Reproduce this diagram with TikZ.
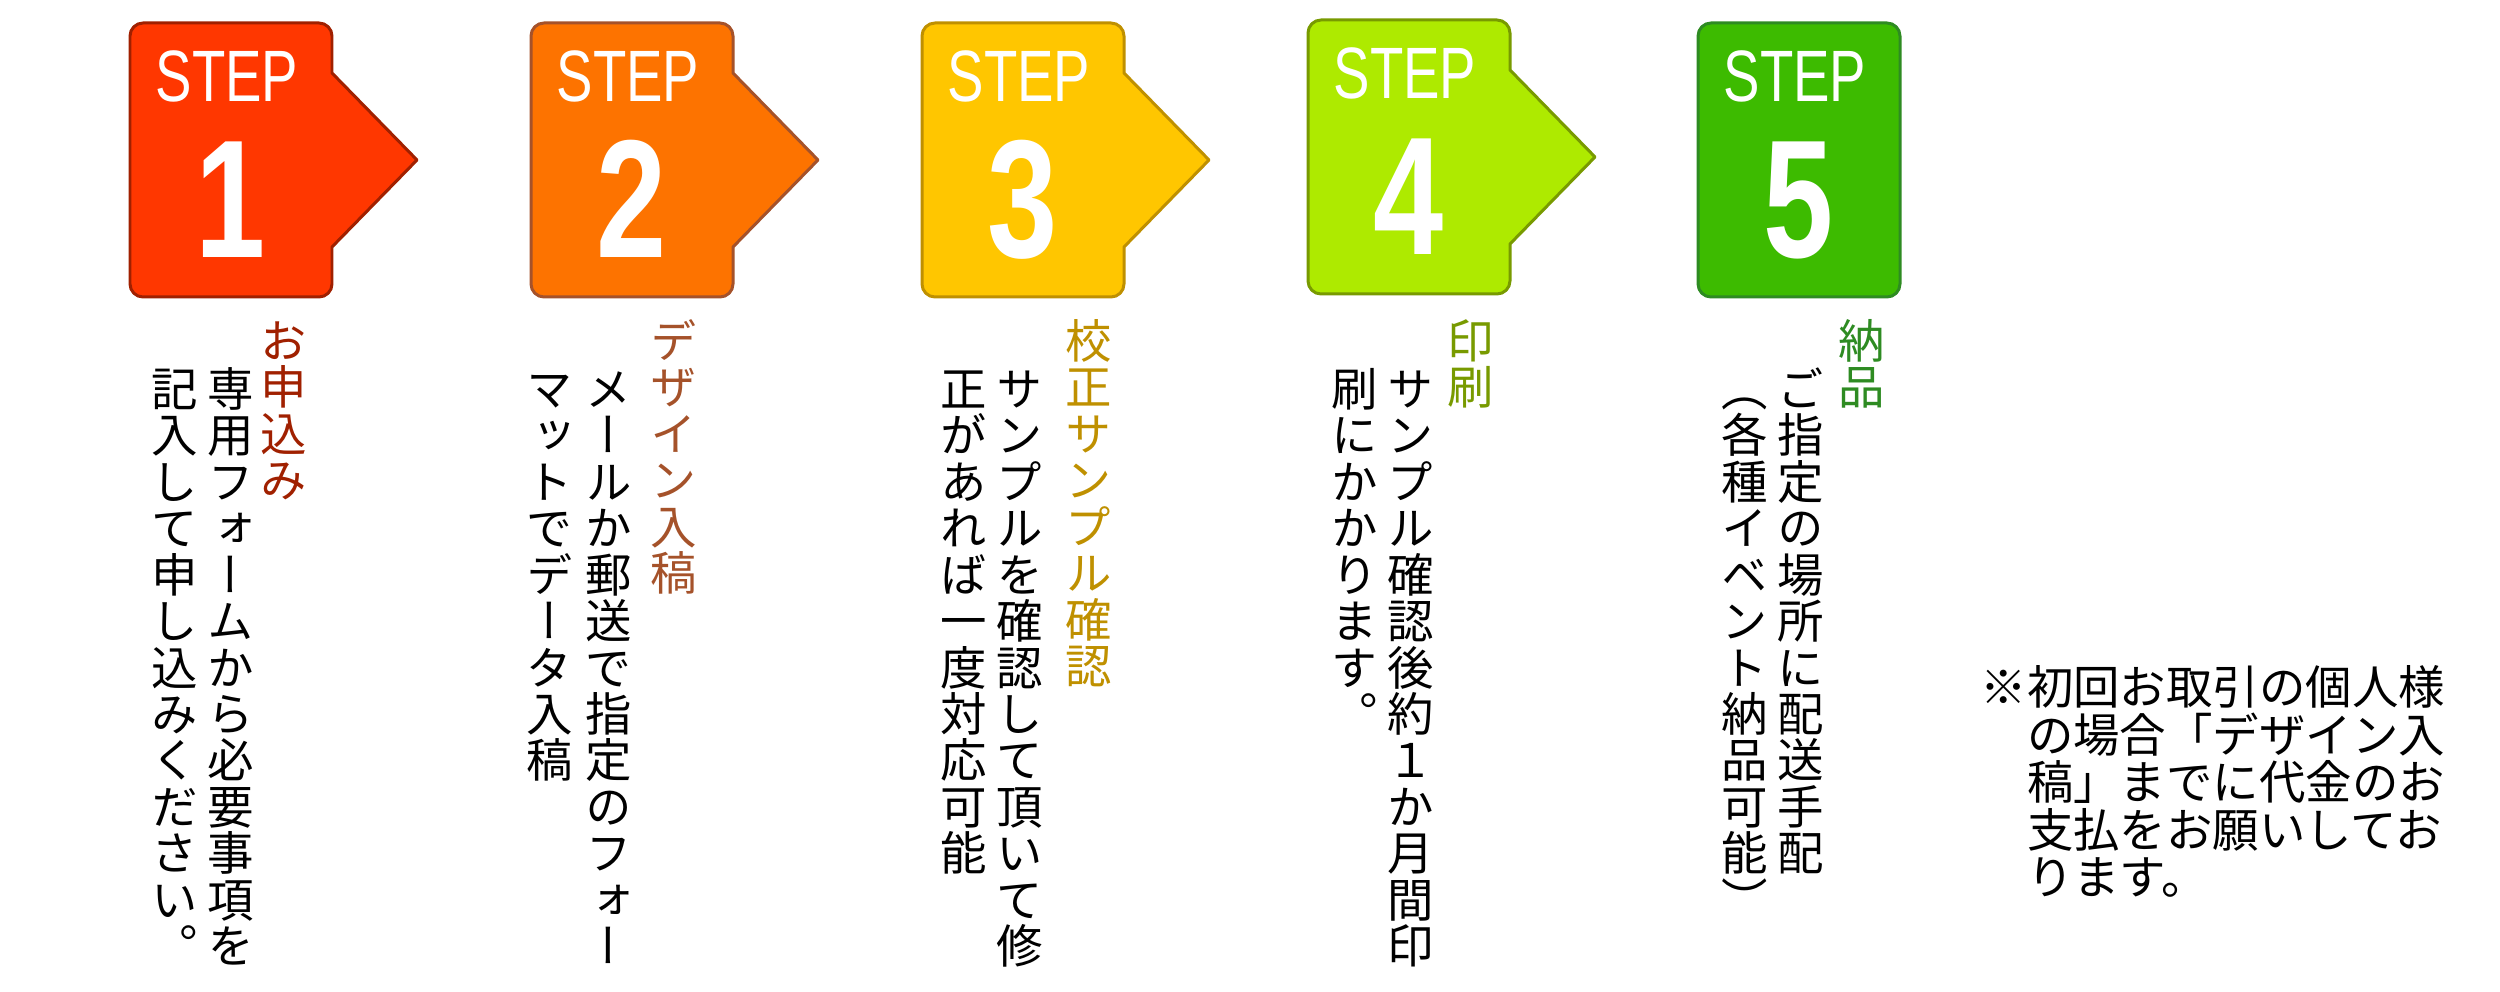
\documentclass[tikz,border=0pt]{standalone}
\usepackage{fontspec}
\setmainfont{Liberation Sans}
\newfontfamily\stepfont{Liberation Sans}[FakeStretch=0.75]
\newfontfamily\tatefont{Noto Sans CJK JP}[Script=CJK,RawFeature=+vert]
\newfontfamily\jpfont{Noto Sans CJK JP}

\definecolor{f1}{HTML}{FF3700}
\definecolor{d1}{HTML}{A02000}
\definecolor{f2}{HTML}{FD7300}
\definecolor{d2}{HTML}{A5522A}
\definecolor{f3}{HTML}{FFC600}
\definecolor{d3}{HTML}{BF9000}
\definecolor{f4}{HTML}{AEEA00}
\definecolor{d4}{HTML}{789A00}
\definecolor{f5}{HTML}{3DBB00}
\definecolor{d5}{HTML}{2E8B22}

% one character per line, top to bottom
\makeatletter
\def\tate@next#1{\ifx#1\relax\else
  \hbox to 1em{\vrule height .88em depth .12em width 0pt\hss#1\hss}%
  \expandafter\tate@next\fi}
\newcommand\tate[1]{\vbox{\offinterlineskip\tate@next#1\relax}}
\makeatother

\begin{document}
\begin{tikzpicture}[x=0.01cm,y=-0.01cm,
			badge/.style = {fill=f#1,draw=d#1,line width=0.85pt,line join=round},
			step node/.style = {anchor=base,inner sep=0pt,text=white,font=\stepfont\fontsize{20.7pt}{20.7pt}\selectfont},
			num node/.style = {anchor=base,inner sep=0pt,text=white,font=\stepfont\bfseries\fontsize{47.8pt}{47.8pt}\selectfont},
			tate node/.style = {anchor=north,inner sep=0pt,font=\tatefont\fontsize{13.2pt}{13.2pt}\selectfont},
			title node/.style = {tate node},
			note node/.style = {anchor=north west,inner sep=0pt,align=left,font=\jpfont\fontsize{13.2pt}{13.5pt}\selectfont}]
			
			\useasboundingbox (0,0) rectangle (2500,992);
			
			\foreach \n/\x/\y in {1/130/23,2/531/23,3/922/23,4/1308/20}{
				\draw[badge=\n] (\x,\y+137) -- (\x,\y+13) arc[start angle=180,end angle=270,radius=13]
					-- (\x+189,\y) arc[start angle=270,end angle=360,radius=13]
					-- (\x+202,\y+50) -- (\x+287,\y+137) -- (\x+202,\y+224)
					-- (\x+202,\y+261) arc[start angle=0,end angle=90,radius=13]
					-- (\x+13,\y+274) arc[start angle=90,end angle=180,radius=13] -- cycle;
				\node[step node] (step\n) at (\x+97,\y+79) {STEP};
				\node[num node] (num\n) at (\x+101,\y+235) {\n};
			}
			\draw[badge=5,rounded corners=3.7pt] (1698,23) rectangle (1900,297);
			\node[step node] (step5) at (1795,102) {STEP};
			\node[num node] (num5) at (1799,258) {5};
			
			\node[title node,text=d1] (t1) at (284,317) {\tate{お申込み}};
			\node[tate node] (a1) at (231,365) {\tate{専用フォームから必要事項を}};
			\node[tate node] (b1) at (175,365) {\tate{記入して申し込みください。}};
			
			\node[title node,text=d2] (t2) at (674,317) {\tate{デザイン入稿}};
			\node[tate node] (a2) at (609,365) {\tate{メールか郵送で指定のフォー}};
			\node[tate node] (b2) at (550,365) {\tate{マットでデータ入稿}};
			
			\node[title node,text=d3] (t3) at (1089,317) {\tate{校正サンプル確認}};
			\node[tate node] (a3) at (1020,365) {\tate{サンプルを確認して頂いて修}};
			\node[tate node] (b3) at (964,365) {\tate{正があれば一度対応可能}};
			
			\node[title node,text=d4] (t4) at (1471,317) {\tate{印刷}};
			\node[tate node] (a4) at (1411,365) {\tate{サンプル確認後約１か月間印}};
			\node[tate node] (b4) at (1355,365) {\tate{刷にかかります。}};
			
			\node[title node,text=d5] (t5) at (1862,317) {\tate{納品}};
			\node[tate node] (a5) at (1801,365) {\tate{ご指定の場所に配送手配}};
			\node[tate node] (b5) at (1745,365) {\tate{（各種イベント納品可能）}};
			
			\node[note node] (note) at (1980,665) {※初回お取引の個人様\\
				\hspace*{1em}の場合「デザイン入\\
				\hspace*{1em}稿」までに代金のお\\
				\hspace*{1em}支払をお願いしてお\\
				\hspace*{1em}ります。};
			
			\end{tikzpicture}
\end{document}
